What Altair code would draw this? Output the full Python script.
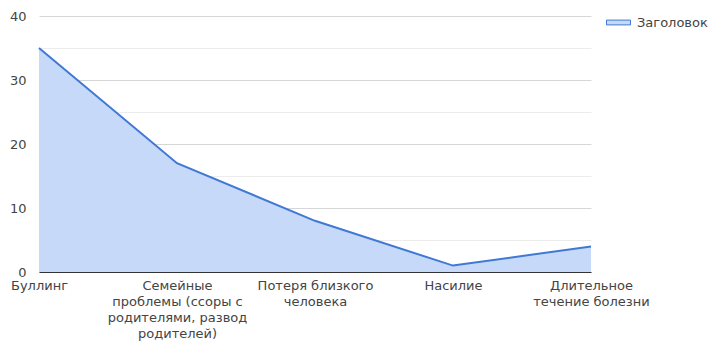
import altair as alt
import pandas as pd

# Причины и количество ответов
categories = [
    "Буллинг",
    "Семейные\nпроблемы (ссоры с\nродителями, развод\nродителей)",
    "Потеря близкого\nчеловека",
    "Насилие",
    "Длительное\nтечение болезни",
]
values = [35, 17, 8, 1, 4]
series_name = "Заголовок"
y_ticks = [0, 5, 10, 15, 20, 25, 30, 35, 40]

df = pd.DataFrame({"cat": categories, "val": values, "series": series_name})

LINE = "#4079d4"
FILL = "#c6d9f8"
FONT = "DejaVu Sans"
FS = 13

x_enc = alt.X(
    "cat:N",
    sort=categories,
    title=None,
    scale=alt.Scale(type="point", padding=0),
    axis=alt.Axis(
        labelExpr="split(datum.label, '\\n')",
        labelAngle=0,
        labelFont=FONT,
        labelFontSize=FS,
        labelColor="#444444",
        labelLineHeight=16,
        labelBaseline="top",
        labelPadding=7,
        labelLimit=200,
        ticks=False,
        domain=True,
        domainColor="#333333",
        domainWidth=1.2,
        grid=False,
    ),
)

y_enc = alt.Y(
    "val:Q",
    title=None,
    scale=alt.Scale(domain=[0, 40], nice=False),
    axis=alt.Axis(
        values=y_ticks,
        labelExpr="datum.value % 10 === 0 ? datum.label : ''",
        labelFont=FONT,
        labelFontSize=FS,
        labelColor="#444444",
        labelPadding=13,
        ticks=False,
        domain=False,
        grid=True,
        gridColor={"condition": {"test": "datum.value % 10 === 0", "value": "#d6d6d6"}, "value": "#ececec"},
        gridWidth=1,
    ),
)

# filled region under the series
area = alt.Chart(df).mark_area(color=FILL, opacity=1).encode(x=x_enc, y=y_enc)

# series line, carrying the legend entry
line = alt.Chart(df).mark_line(strokeWidth=2).encode(
    x=x_enc,
    y=y_enc,
    color=alt.Color(
        "series:N",
        scale=alt.Scale(range=[LINE]),
        legend=alt.Legend(
            title=None,
            orient="none",
            legendX=567,
            legendY=-6,
            symbolType="M-1,-0.2H1V0.2H-1Z",
            symbolSize=576,
            symbolFillColor=FILL,
            symbolStrokeColor=LINE,
            symbolStrokeWidth=1,
            labelFont=FONT,
            labelFontSize=FS,
            labelColor="#444444",
            labelOffset=6,
        ),
    ),
)

chart = (area + line).properties(
    width=552,
    height=256,
    autosize=alt.AutoSizeParams(type="none"),
    padding={"left": 39, "top": 16, "right": 121, "bottom": 73},
).configure(background="white").configure_view(stroke=None)

chart.save("out.html", embed_options={"renderer": "svg", "actions": False})
